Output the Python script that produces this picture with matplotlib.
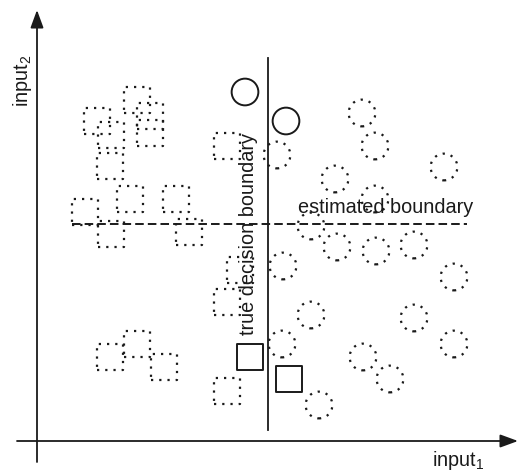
import matplotlib
matplotlib.use("Agg")
import matplotlib.pyplot as plt

plt.rcParams['font.family'] = ['Liberation Sans', 'DejaVu Sans']
plt.rcParams['mathtext.fontset'] = 'custom'
plt.rcParams['mathtext.rm'] = 'Liberation Sans'

# ---- data (arbitrary units, origin at the axes crossing) ----
class_a_x = [100, 113, 60, 74, 113, 73, 93, 139, 48, 74, 152, 190, 203, 190, 73, 100, 127, 190]
class_a_y = [341, 325, 320, 306, 308, 275, 242, 242, 229, 207, 209, 295, 171, 139, 84, 97, 74, 50]

class_b_x = [325, 338, 240, 407, 298, 338, 274, 300, 339, 377, 246, 417, 274, 377, 245, 417, 326, 353, 282]
class_b_y = [328, 295, 286, 274, 262, 242, 215, 194, 190, 196, 175, 164, 126, 123, 97, 97, 84, 62, 36]

new_b_x = [208, 249]   # solid circles
new_b_y = [349, 320]
new_a_x = [213, 252]   # solid squares
new_a_y = [84, 62]

true_boundary_x = 231
true_boundary_y = [11, 383]
est_boundary_y = 217
est_boundary_x = [35, 430]

x_axis_label = "input$_\\mathregular{1}$"
y_axis_label = "input$_\\mathregular{2}$"
true_label = "true decision boundary"
est_label = "estimated boundary"

# ---- figure ----
fig = plt.figure(figsize=(5.19, 4.72), dpi=100)
ax = fig.add_axes([0, 0, 1, 1])
ax.set_xlim(-37, 482)
ax.set_ylim(-31, 441)
ax.axis('off')

ink = '#1a1a1a'
dot_ls = (0, (1.0, 2.7))

ax.scatter(class_a_x, class_a_y, s=350, marker='s', facecolors='none',
           edgecolors=ink, linewidths=1.6, linestyles=[dot_ls], zorder=2)
ax.scatter(class_b_x, class_b_y, s=370, marker='o', facecolors='none',
           edgecolors=ink, linewidths=1.6, linestyles=[dot_ls], zorder=2)
ax.scatter(new_b_x, new_b_y, s=370, marker='o', facecolors='none',
           edgecolors=ink, linewidths=1.4, zorder=3)
ax.scatter(new_a_x, new_a_y, s=350, marker='s', facecolors='none',
           edgecolors=ink, linewidths=1.4, zorder=3)

ax.plot([true_boundary_x, true_boundary_x], true_boundary_y, color=ink, lw=1.3, zorder=3)
ax.plot(est_boundary_x, [est_boundary_y, est_boundary_y], color=ink, lw=1.4,
        linestyle=(0, (4.4, 2.1)), zorder=3)

# axes arrows
arrow_kw = dict(arrowstyle='-|>,head_length=0.9,head_width=0.33', lw=1.3,
                color=ink, shrinkA=0, shrinkB=0, mutation_scale=12)
ax.annotate('', xy=(481, 0), xytext=(-20, 0), arrowprops=arrow_kw)
ax.annotate('', xy=(0, 431), xytext=(0, -21), arrowprops=arrow_kw)

fs = 14.3
ax.text(395, -25, x_axis_label, fontsize=fs, ha='left', va='baseline', color=ink)
ax.text(-9, 334, y_axis_label, fontsize=fs, ha='left', va='baseline',
        rotation=90, rotation_mode='anchor', color=ink)
ax.text(217, 207, true_label, fontsize=fs, ha='center', va='baseline',
        rotation=90, rotation_mode='anchor', color=ink, zorder=4)
ax.text(261, 228, est_label, fontsize=fs, ha='left', va='baseline', color=ink, zorder=4)

fig.savefig('out.png', dpi=100)
